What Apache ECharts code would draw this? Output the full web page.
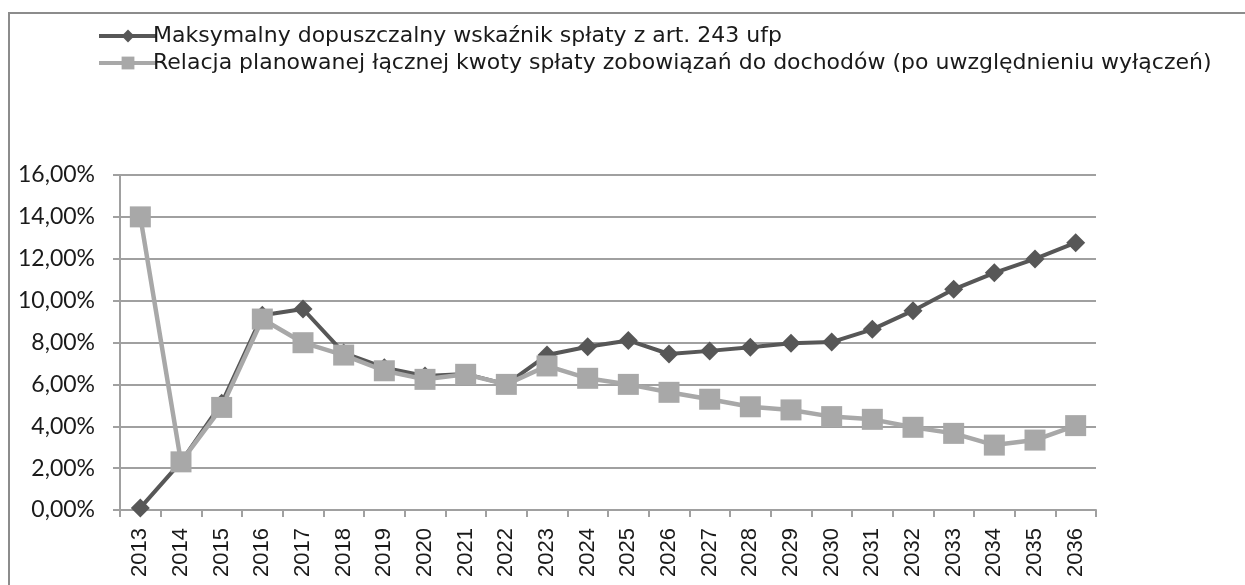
<!DOCTYPE html>
<html>
<head>
<meta charset="utf-8">
<script src="https://cdn.jsdelivr.net/npm/echarts@6/dist/echarts.min.js"></script>
<style>
  html, body { margin: 0; padding: 0; background: #fff; }
  #chart { width: 1245px; height: 585px; }
</style>
</head>
<body>
<div id="chart"></div>
<script>
// lata
const years = ['2013', '2014', '2015', '2016', '2017', '2018', '2019', '2020', '2021', '2022', '2023', '2024',
  '2025', '2026', '2027', '2028', '2029', '2030', '2031', '2032', '2033', '2034', '2035', '2036']
// wartosci w %
const maxWskaznik = [0.1, 2.3, 5.1, 9.3, 9.6, 7.5, 6.8, 6.4, 6.5, 6.0, 7.4, 7.8,
  8.1, 7.45, 7.6, 7.77, 7.96, 8.02, 8.63, 9.52, 10.54, 11.33, 11.99, 12.77]
const relacja = [14.0, 2.3, 4.9, 9.12, 7.99, 7.4, 6.65, 6.24, 6.48, 6.0, 6.88, 6.29,
  6.0, 5.62, 5.29, 4.93, 4.78, 4.46, 4.33, 3.95, 3.66, 3.1, 3.34, 4.03]
const seriesNames = [
  'Maksymalny dopuszczalny wskaźnik spłaty z art. 243 ufp',
  'Relacja planowanej łącznej kwoty spłaty zobowiązań do dochodów (po uwzględnieniu wyłączeń)'
]

let chart = echarts.init(document.getElementById('chart'))
chart.setOption({
  animation: false,
  graphic: [
    {
      type: 'rect',
      shape: { x: 9, y: 13, width: 1300, height: 640 },
      style: { fill: 'none', stroke: '#8c8c8c', lineWidth: 2 }
    }
  ],
  legend: {
    orient: 'vertical',
    left: 92,
    top: 20,
    itemWidth: 58,
    itemHeight: 16,
    itemGap: 5,
    lineStyle: { width: 4 },
    textStyle: { fontFamily: 'DejaVu Sans', fontSize: 22, color: '#1a1a1a', padding: [0, 0, 0, -9] },
    data: seriesNames
  },
  grid: {
    left: 120,
    right: 149,
    top: 175,
    bottom: 75
  },
  xAxis: {
    type: 'category',
    data: years,
    boundaryGap: true,
    axisLine: { lineStyle: { color: '#a0a0a0', width: 2 } },
    axisTick: { show: true, length: 7, lineStyle: { color: '#a0a0a0', width: 2 } },
    axisLabel: {
      rotate: 90,
      interval: 0,
      margin: 18,
      fontFamily: 'Liberation Sans',
      fontSize: 22,
      color: '#1a1a1a'
    }
  },
  yAxis: {
    type: 'value',
    min: 0,
    max: 16,
    interval: 2,
    axisLine: { show: true, lineStyle: { color: '#a0a0a0', width: 2 } },
    axisTick: { show: true, length: 7, lineStyle: { color: '#a0a0a0', width: 2 } },
    splitLine: { lineStyle: { color: '#a0a0a0', width: 2 } },
    axisLabel: {
      margin: 25,
      fontFamily: 'Lato',
      fontSize: 23,
      color: '#1a1a1a',
      formatter: v => v.toFixed(2).replace('.', ',') + '%'
    }
  },
  series: [
    {
      name: seriesNames[0],
      type: 'line',
      data: maxWskaznik,
      symbol: 'diamond',
      symbolSize: 19,
      itemStyle: { color: '#575757' },
      lineStyle: { color: '#575757', width: 4 }
    },
    {
      name: seriesNames[1],
      type: 'line',
      data: relacja,
      symbol: 'rect',
      symbolSize: 21,
      itemStyle: { color: '#a8a8a8' },
      lineStyle: { color: '#a8a8a8', width: 4.5 }
    }
  ]
})
</script>
</body>
</html>
